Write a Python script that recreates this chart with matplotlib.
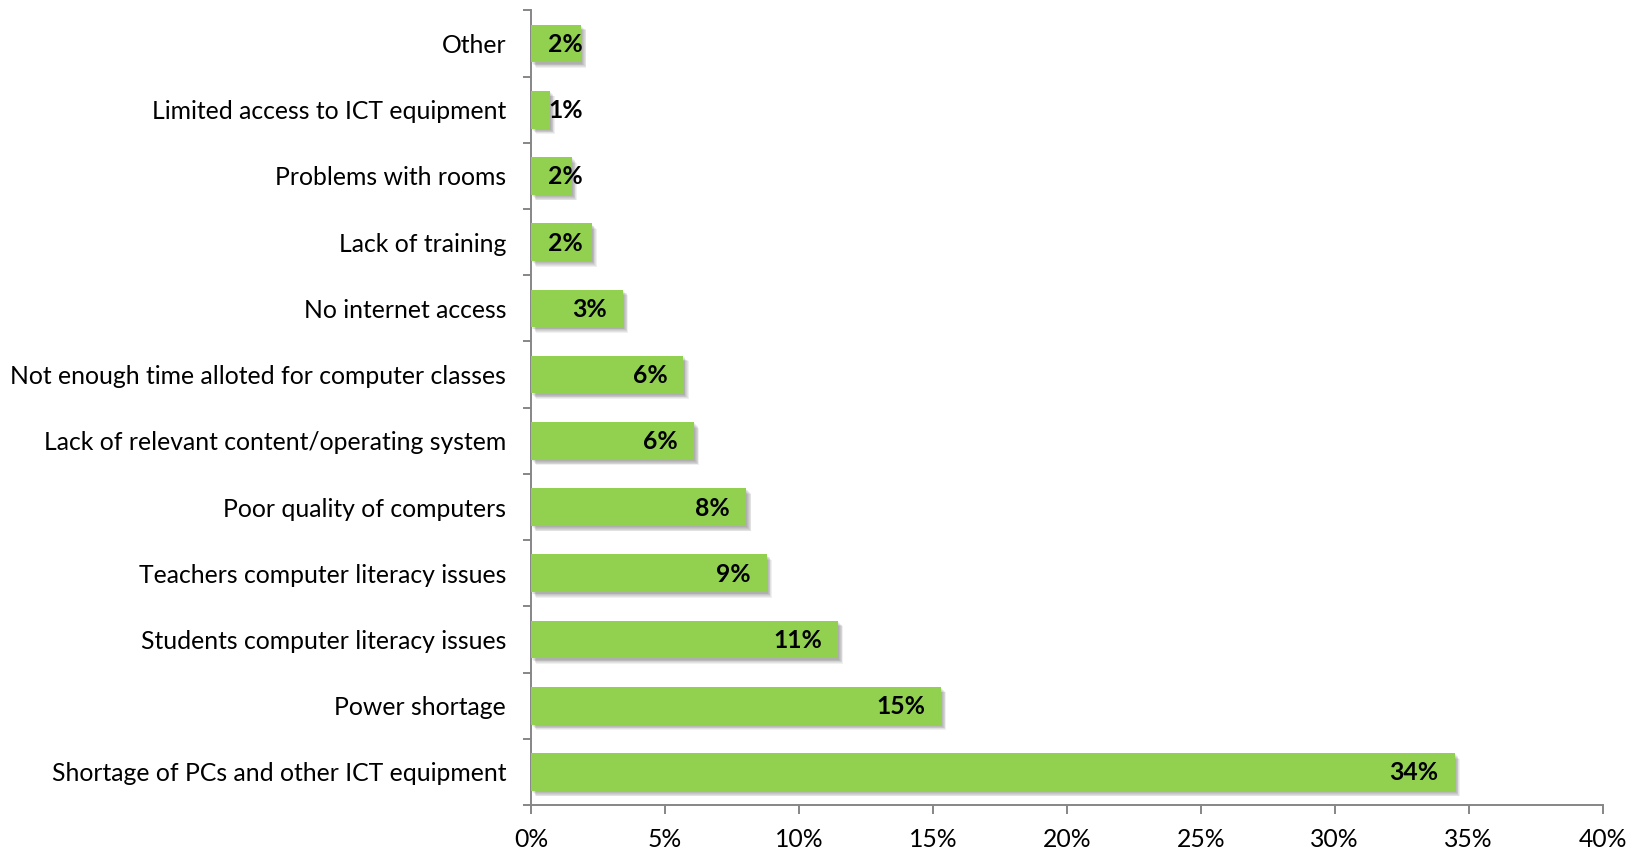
import matplotlib
matplotlib.use("Agg")
import matplotlib.pyplot as plt
from matplotlib import patheffects as pe

# Reported obstacles to ICT use in schools (share of responses, %)
categories = [
    "Other",
    "Limited access to ICT equipment",
    "Problems with rooms",
    "Lack of training",
    "No internet access",
    "Not enough time alloted for computer classes",
    "Lack of relevant content/operating system",
    "Poor quality of computers",
    "Teachers computer literacy issues",
    "Students computer literacy issues",
    "Power shortage",
    "Shortage of PCs and other ICT equipment",
]
shares = [1.87, 0.70, 1.52, 2.26, 3.43, 5.69, 6.08, 8.03, 8.80, 11.46, 15.30, 34.48]
x_ticks = [0, 5, 10, 15, 20, 25, 30, 35, 40]

FONT = "Lato"
FS = 17.8
BAR = "#92D050"
AXIS = "#868686"

plt.rcParams["font.family"] = [FONT, "DejaVu Sans"]

fig = plt.figure(figsize=(16.37, 8.51), dpi=100)
ax = fig.add_axes([0.3244, 0.054, 0.979 - 0.3244, 0.9878 - 0.054])

ypos = list(range(len(categories)))

# soft drop shadow under each bar
shadow = [pe.SimplePatchShadow(offset=(0.8 + 0.6 * k, -1.0 - 0.6 * k),
                               shadow_rgbFace="black", alpha=0.06)
          for k in range(6)] + [pe.Normal()]
bars = ax.barh(ypos, shares, height=0.57, color=BAR, edgecolor="none",
               path_effects=shadow, zorder=3)

# value labels at the inner end of each bar
for y, v in zip(ypos, shares):
    label = f"{v:.0f}%"
    if v < 2.5:
        ax.annotate(label, xy=(0, y), xytext=(17, -1), textcoords="offset pixels",
                    ha="left", va="center", fontsize=FS, fontweight="bold",
                    color="black", zorder=5)
    else:
        ax.annotate(label, xy=(v, y), xytext=(-16, -1), textcoords="offset pixels",
                    ha="right", va="center", fontsize=FS, fontweight="bold",
                    color="black", zorder=5)

ax.set_xlim(0, 40)
ax.set_ylim(len(categories) - 0.5, -0.5)

for s in ("top", "right"):
    ax.spines[s].set_visible(False)
for s in ("left", "bottom"):
    ax.spines[s].set_color(AXIS)
    ax.spines[s].set_linewidth(1.4)

ax.set_yticks(ypos)
ax.set_yticklabels(categories, fontsize=FS)
ax.set_yticks([i - 0.5 for i in range(len(categories) + 1)], minor=True)
ax.tick_params(axis="y", which="major", length=0, pad=18)
ax.tick_params(axis="y", which="minor", length=6, width=1.4, color=AXIS,
               direction="out")

ax.set_xticks(x_ticks)
ax.set_xticklabels([f"{t}%" for t in x_ticks], fontsize=FS)
ax.tick_params(axis="x", length=6.5, width=1.4, color=AXIS, direction="out", pad=10)

fig.savefig("out.png", dpi=100, facecolor="white")
